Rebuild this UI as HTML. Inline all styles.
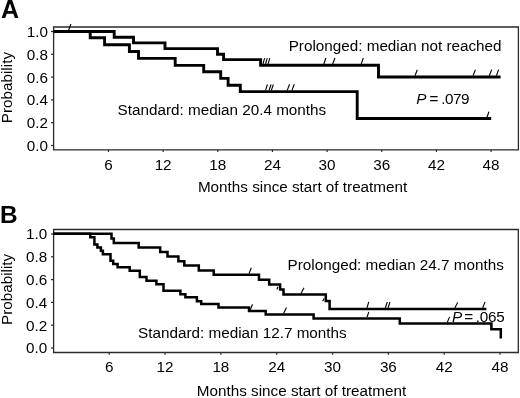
<!DOCTYPE html>
<html><head><meta charset="utf-8"><style>
html,body{margin:0;padding:0;background:#fff;width:520px;height:398px;overflow:hidden}
svg{display:block;will-change:transform}
text{font-family:"Liberation Sans",sans-serif}
</style></head><body>
<svg width="520" height="398" viewBox="0 0 520 398">
<rect width="520" height="398" fill="#fff"/>
<g font-family="Liberation Sans, sans-serif" font-size="15.25" fill="#000">
<path d="M53.6,27.0 H518.4 V149.8 H53.6 Z" fill="none" stroke="#2a2a2a" stroke-width="1.3"/>
<line x1="51.0" y1="145.50" x2="53.6" y2="145.50" stroke="#2a2a2a" stroke-width="1.2"/>
<text x="47.9" y="151.00" text-anchor="end">0.0</text>
<line x1="51.0" y1="122.70" x2="53.6" y2="122.70" stroke="#2a2a2a" stroke-width="1.2"/>
<text x="47.9" y="128.20" text-anchor="end">0.2</text>
<line x1="51.0" y1="99.90" x2="53.6" y2="99.90" stroke="#2a2a2a" stroke-width="1.2"/>
<text x="47.9" y="105.40" text-anchor="end">0.4</text>
<line x1="51.0" y1="77.10" x2="53.6" y2="77.10" stroke="#2a2a2a" stroke-width="1.2"/>
<text x="47.9" y="82.60" text-anchor="end">0.6</text>
<line x1="51.0" y1="54.30" x2="53.6" y2="54.30" stroke="#2a2a2a" stroke-width="1.2"/>
<text x="47.9" y="59.80" text-anchor="end">0.8</text>
<line x1="51.0" y1="31.50" x2="53.6" y2="31.50" stroke="#2a2a2a" stroke-width="1.2"/>
<text x="47.9" y="37.00" text-anchor="end">1.0</text>
<line x1="108.46" y1="149.8" x2="108.46" y2="152.0" stroke="#2a2a2a" stroke-width="1.2"/>
<text x="108.46" y="170.2" text-anchor="middle">6</text>
<line x1="163.12" y1="149.8" x2="163.12" y2="152.0" stroke="#2a2a2a" stroke-width="1.2"/>
<text x="163.12" y="170.2" text-anchor="middle">12</text>
<line x1="217.78" y1="149.8" x2="217.78" y2="152.0" stroke="#2a2a2a" stroke-width="1.2"/>
<text x="217.78" y="170.2" text-anchor="middle">18</text>
<line x1="272.44" y1="149.8" x2="272.44" y2="152.0" stroke="#2a2a2a" stroke-width="1.2"/>
<text x="272.44" y="170.2" text-anchor="middle">24</text>
<line x1="327.10" y1="149.8" x2="327.10" y2="152.0" stroke="#2a2a2a" stroke-width="1.2"/>
<text x="327.10" y="170.2" text-anchor="middle">30</text>
<line x1="381.76" y1="149.8" x2="381.76" y2="152.0" stroke="#2a2a2a" stroke-width="1.2"/>
<text x="381.76" y="170.2" text-anchor="middle">36</text>
<line x1="436.42" y1="149.8" x2="436.42" y2="152.0" stroke="#2a2a2a" stroke-width="1.2"/>
<text x="436.42" y="170.2" text-anchor="middle">42</text>
<line x1="491.08" y1="149.8" x2="491.08" y2="152.0" stroke="#2a2a2a" stroke-width="1.2"/>
<text x="491.08" y="170.2" text-anchor="middle">48</text>
<text x="197.9" y="191.6">Months since start of treatment</text>
<text transform="translate(12.1,123.2) rotate(-90)">Probability</text>
<text x="0.9" y="17.9" font-weight="bold" font-size="25">A</text>
<path d="M53.8,31.5 H114.2 V37.2 H133.5 V42.9 H165 V48.6 H217.5 V54.2 H223.6 V59.6 H260.6 V65.2 H378.5 V77 H500.6" fill="none" stroke="#000" stroke-width="2.9" stroke-linejoin="miter" stroke-linecap="butt"/>
<path d="M53.8,31.5 H90.2 V37.7 H104.6 V44.7 H129.4 V51.5 H138.5 V58.4 H175.2 V65.4 H203.7 V71.8 H220.7 V78.4 H228.1 V85.2 H240.3 V91.6 H357.2 V118.5 H491.2" fill="none" stroke="#000" stroke-width="2.9" stroke-linejoin="miter" stroke-linecap="butt"/>
<line x1="68.5" y1="30.5" x2="70.9" y2="24.0" stroke="#000" stroke-width="1.1"/>
<line x1="263.0" y1="64.0" x2="264.6" y2="58.2" stroke="#000" stroke-width="1.1"/>
<line x1="265.6" y1="64.0" x2="267.2" y2="58.2" stroke="#000" stroke-width="1.1"/>
<line x1="268.1" y1="64.0" x2="269.8" y2="58.2" stroke="#000" stroke-width="1.1"/>
<line x1="323.8" y1="64.0" x2="325.9" y2="58.0" stroke="#000" stroke-width="1.1"/>
<line x1="332.6" y1="64.0" x2="335.0" y2="58.0" stroke="#000" stroke-width="1.1"/>
<line x1="361.2" y1="64.0" x2="363.3" y2="58.0" stroke="#000" stroke-width="1.1"/>
<line x1="415.0" y1="75.8" x2="417.3" y2="69.8" stroke="#000" stroke-width="1.1"/>
<line x1="473.0" y1="75.8" x2="475.4" y2="69.6" stroke="#000" stroke-width="1.1"/>
<line x1="489.3" y1="75.8" x2="491.7" y2="69.6" stroke="#000" stroke-width="1.1"/>
<line x1="496.4" y1="75.8" x2="498.6" y2="69.6" stroke="#000" stroke-width="1.1"/>
<line x1="265.5" y1="90.4" x2="267.4" y2="84.5" stroke="#000" stroke-width="1.1"/>
<line x1="269.0" y1="90.4" x2="271.1" y2="84.5" stroke="#000" stroke-width="1.1"/>
<line x1="271.3" y1="90.4" x2="273.4" y2="84.5" stroke="#000" stroke-width="1.1"/>
<line x1="287.2" y1="90.4" x2="289.6" y2="84.2" stroke="#000" stroke-width="1.1"/>
<line x1="291.9" y1="90.4" x2="294.3" y2="84.2" stroke="#000" stroke-width="1.1"/>
<line x1="487.0" y1="117.2" x2="488.9" y2="111.8" stroke="#000" stroke-width="1.1"/>
<text x="288.7" y="51">Prolonged: median not reached</text>
<text x="117.6" y="115">Standard: median 20.4 months</text>
<text x="416.2" y="103.6" font-style="italic">P</text>
<text x="429.4" y="103.6">=</text>
<text x="441.3" y="103.6" textLength="28.2" lengthAdjust="spacing">.079</text>
<path d="M53.6,229.5 H518.3 V352.5 H53.6 Z" fill="none" stroke="#2a2a2a" stroke-width="1.3"/>
<line x1="51.0" y1="348.00" x2="53.6" y2="348.00" stroke="#2a2a2a" stroke-width="1.2"/>
<text x="47.3" y="353.30" text-anchor="end">0.0</text>
<line x1="51.0" y1="325.20" x2="53.6" y2="325.20" stroke="#2a2a2a" stroke-width="1.2"/>
<text x="47.3" y="330.50" text-anchor="end">0.2</text>
<line x1="51.0" y1="302.40" x2="53.6" y2="302.40" stroke="#2a2a2a" stroke-width="1.2"/>
<text x="47.3" y="307.70" text-anchor="end">0.4</text>
<line x1="51.0" y1="279.60" x2="53.6" y2="279.60" stroke="#2a2a2a" stroke-width="1.2"/>
<text x="47.3" y="284.90" text-anchor="end">0.6</text>
<line x1="51.0" y1="256.80" x2="53.6" y2="256.80" stroke="#2a2a2a" stroke-width="1.2"/>
<text x="47.3" y="262.10" text-anchor="end">0.8</text>
<line x1="51.0" y1="234.00" x2="53.6" y2="234.00" stroke="#2a2a2a" stroke-width="1.2"/>
<text x="47.3" y="239.30" text-anchor="end">1.0</text>
<line x1="109.23" y1="352.5" x2="109.23" y2="354.7" stroke="#2a2a2a" stroke-width="1.2"/>
<text x="109.23" y="371.8" text-anchor="middle">6</text>
<line x1="165.06" y1="352.5" x2="165.06" y2="354.7" stroke="#2a2a2a" stroke-width="1.2"/>
<text x="165.06" y="371.8" text-anchor="middle">12</text>
<line x1="220.89" y1="352.5" x2="220.89" y2="354.7" stroke="#2a2a2a" stroke-width="1.2"/>
<text x="220.89" y="371.8" text-anchor="middle">18</text>
<line x1="276.72" y1="352.5" x2="276.72" y2="354.7" stroke="#2a2a2a" stroke-width="1.2"/>
<text x="276.72" y="371.8" text-anchor="middle">24</text>
<line x1="332.55" y1="352.5" x2="332.55" y2="354.7" stroke="#2a2a2a" stroke-width="1.2"/>
<text x="332.55" y="371.8" text-anchor="middle">30</text>
<line x1="388.38" y1="352.5" x2="388.38" y2="354.7" stroke="#2a2a2a" stroke-width="1.2"/>
<text x="388.38" y="371.8" text-anchor="middle">36</text>
<line x1="444.21" y1="352.5" x2="444.21" y2="354.7" stroke="#2a2a2a" stroke-width="1.2"/>
<text x="444.21" y="371.8" text-anchor="middle">42</text>
<line x1="500.04" y1="352.5" x2="500.04" y2="354.7" stroke="#2a2a2a" stroke-width="1.2"/>
<text x="500.04" y="371.8" text-anchor="middle">48</text>
<text x="196.8" y="396">Months since start of treatment</text>
<text transform="translate(12.2,325) rotate(-90)">Probability</text>
<text x="0.1" y="223.1" font-weight="bold" font-size="24.4">B</text>
<path d="M53.4,233.8 H111.5 V238.4 H113.8 V243 H138.7 V247.5 H160.2 V252.1 H167.5 V256.4 H178.4 V261.3 H184.3 V265.6 H198.8 V270.4 H213.7 V274.7 H259 V279.8 H269.2 V284.5 H280.1 V289.6 H283.5 V294.6 H325.8 V301 H329.6 V309 H486.4" fill="none" stroke="#000" stroke-width="2.5" stroke-linejoin="miter" stroke-linecap="butt"/>
<path d="M53.4,233.8 H90.3 V237.3 H94.4 V244.5 H97.4 V247.5 H100.9 V250.7 H102.9 V254.2 H110.5 V260.8 H113.2 V264.1 H117.6 V267.3 H129.7 V270.8 H139.8 V276.9 H146.5 V280.8 H156.4 V284.2 H163.5 V290.8 H180.4 V294.2 H185.4 V297.2 H196.9 V301.2 H201.2 V304.1 H218.5 V307.6 H249 V311 H265.7 V314.6 H313.6 V318.4 H399.8 V323.4 H491.4 V329.2 H500.8 V338.4" fill="none" stroke="#000" stroke-width="2.5" stroke-linejoin="miter" stroke-linecap="butt"/>
<line x1="249.0" y1="273.6" x2="251.3" y2="267.7" stroke="#000" stroke-width="1.1"/>
<line x1="301.0" y1="293.5" x2="304.0" y2="287.7" stroke="#000" stroke-width="1.1"/>
<line x1="366.9" y1="308.0" x2="368.8" y2="301.9" stroke="#000" stroke-width="1.1"/>
<line x1="385.3" y1="308.0" x2="387.3" y2="302.0" stroke="#000" stroke-width="1.1"/>
<line x1="388.0" y1="308.0" x2="390.0" y2="302.0" stroke="#000" stroke-width="1.1"/>
<line x1="454.8" y1="308.0" x2="457.7" y2="302.5" stroke="#000" stroke-width="1.1"/>
<line x1="482.6" y1="308.0" x2="485.1" y2="301.9" stroke="#000" stroke-width="1.1"/>
<line x1="250.2" y1="310.0" x2="252.5" y2="304.2" stroke="#000" stroke-width="1.1"/>
<line x1="276.9" y1="289.5" x2="277.9" y2="286.8" stroke="#000" stroke-width="1.1"/>
<line x1="322.7" y1="301.2" x2="324.0" y2="298.6" stroke="#000" stroke-width="1.1"/>
<line x1="283.6" y1="313.5" x2="286.5" y2="307.5" stroke="#000" stroke-width="1.1"/>
<line x1="367.0" y1="317.3" x2="368.8" y2="312.0" stroke="#000" stroke-width="1.1"/>
<line x1="447.3" y1="322.3" x2="449.6" y2="316.9" stroke="#000" stroke-width="1.1"/>
<text x="287.6" y="270">Prolonged: median 24.7 months</text>
<text x="138.1" y="337.5">Standard: median 12.7 months</text>
<text x="451.9" y="322" font-style="italic">P</text>
<text x="464.3" y="322">=</text>
<text x="475.7" y="322" textLength="29.1" lengthAdjust="spacing">.065</text>
</g></svg>
</body></html>
